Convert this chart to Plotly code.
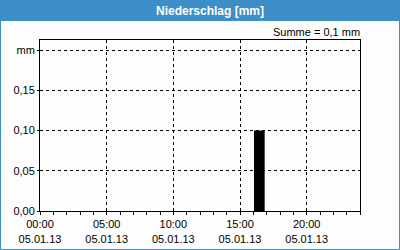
import plotly.graph_objects as go

# data
bar_hours = [16]
bar_values = [0.10]
x_tick_hours = [0, 5, 10, 15, 20]
x_tick_labels = ["00:00<br>05.01.13", "05:00<br>05.01.13", "10:00<br>05.01.13",
                 "15:00<br>05.01.13", "20:00<br>05.01.13"]
y_tick_vals = [0.0, 0.05, 0.10, 0.15, 0.20]
y_tick_labels = ["0,00", "0,05", "0,10", "0,15", "mm"]
title_text = "Niederschlag [mm]"
sum_text = "Summe = 0,1 mm"

BLUE = "#3b8fc6"
FONT = "Liberation Sans"

W, H = 400, 250
L, R, T, B = 40, 40, 40, 39
PW, PH = W - L - R, H - T - B


def px(x):
    return (x - L) / PW


def py(y):
    return (H - B - y) / PH


fig = go.Figure()
fig.add_trace(go.Bar(x=bar_hours, y=bar_values, width=0.8, offset=0.05,
                     marker=dict(color="black", line=dict(width=0))))

fig.update_layout(
    width=W, height=H,
    margin=dict(l=L, r=R, t=T, b=B, autoexpand=False),
    paper_bgcolor="#fcfdfc", plot_bgcolor="#fcfdfc",
    showlegend=False,
    font=dict(family=FONT, size=11, color="#000000"),
    xaxis=dict(range=[0, 24], tickmode="array",
               tickvals=x_tick_hours, ticktext=x_tick_labels, automargin=False,
               showline=True, linecolor="black", linewidth=1, mirror=True,
               ticks="outside", ticklen=3, tickcolor="black",
               showgrid=True, gridcolor="black", gridwidth=1, griddash="3px,3px",
               minor=dict(dtick=1, tick0=0, ticks="outside", ticklen=3, tickcolor="black",
                          showgrid=False),
               zeroline=False, fixedrange=True),
    yaxis=dict(range=[0, 0.2125], tickmode="array",
               tickvals=y_tick_vals, ticktext=y_tick_labels, automargin=False,
               showline=True, linecolor="black", linewidth=1, mirror=True,
               ticks="outside", ticklen=2, tickcolor="black",
               showgrid=True, gridcolor="black", gridwidth=1, griddash="3px,3px",
               zeroline=False, fixedrange=True),
    shapes=[
        dict(type="rect", xref="paper", yref="paper", x0=px(0.5), x1=px(399.5),
             y0=py(249.5), y1=py(0.5),
             line=dict(color=BLUE, width=1), fillcolor="rgba(0,0,0,0)", layer="above"),
        dict(type="rect", xref="paper", yref="paper", x0=px(0), x1=px(400),
             y0=py(21), y1=py(0),
             line=dict(width=0), fillcolor=BLUE, layer="above"),
    ],
    annotations=[
        dict(text="<b>" + title_text + "</b>", xref="paper", yref="paper",
             x=px(210), y=py(11), xanchor="center", yanchor="middle",
             showarrow=False, font=dict(family=FONT, size=12, color="white")),
        dict(text=sum_text, xref="paper", yref="paper",
             x=px(362), y=py(32), xanchor="right", yanchor="middle",
             showarrow=False, font=dict(family=FONT, size=11, color="black")),
    ],
)

fig.write_html("out.html")
